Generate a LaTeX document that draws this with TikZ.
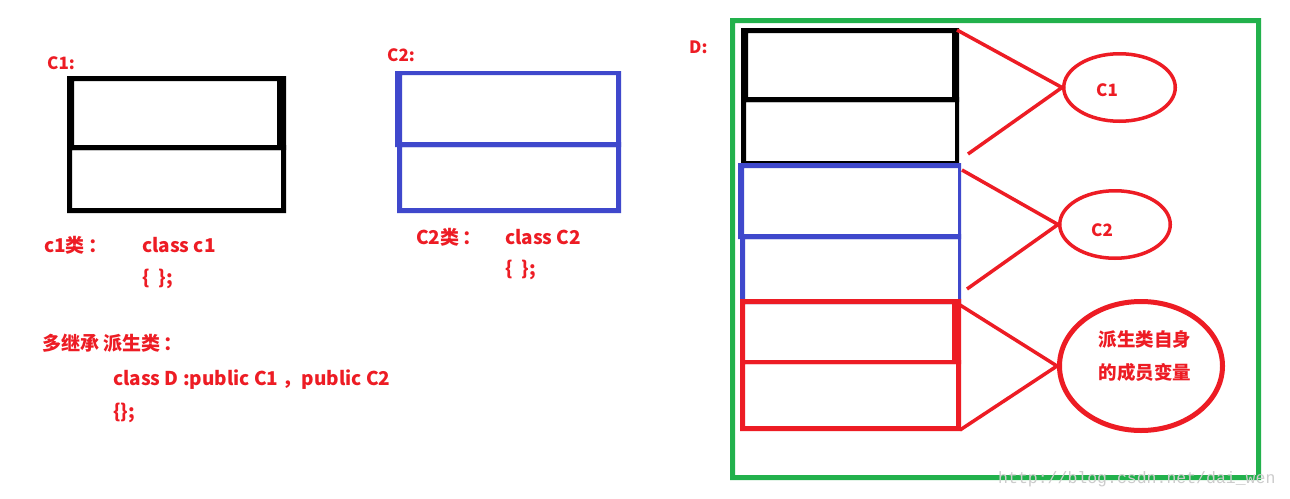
\documentclass[tikz,border=0pt]{standalone}
\usepackage{fontspec}
\setmainfont{Noto Sans CJK SC}
\newfontfamily\wmfont{Liberation Mono}
\usetikzlibrary{shapes.geometric}
\definecolor{pred}{HTML}{ED1C24}
\definecolor{pblue}{HTML}{3F48CC}
\definecolor{pgreen}{HTML}{22B14C}
\tikzset{
  lbl/.style={text=pred, font=\bfseries\fontsize{17}{20}\selectfont, anchor=base west, inner sep=0pt},
  txt/.style={text=pred, font=\bfseries\fontsize{19}{22}\selectfont, anchor=base west, inner sep=0pt},
  frameblack/.style={fill=black, even odd rule},
  frameblue/.style={fill=pblue, even odd rule},
  framered/.style={fill=pred, even odd rule},
  framegreen/.style={fill=pgreen, even odd rule},
  oval/.style={draw=pred, ellipse, inner sep=0pt},
  link/.style={draw=pred, line width=3.5pt},
  ovaltxt/.style={text=pred, font=\bfseries\fontsize{17}{20}\selectfont, inner sep=0pt},
}
\begin{document}
\begin{tikzpicture}[x=1pt,y=-1pt]
\useasboundingbox (0,0) rectangle (1290,498);
\fill[white] (0,0) rectangle (1290,498);

% ---- C1 ----
\node[lbl] (lc1) at (47,69) {C1:};
\fill[frameblack] (67,76) rectangle (286,150) (74,81) rectangle (277,145);
\fill[frameblack] (67,145) rectangle (286,213) (72,150) rectangle (281,208);
\node[txt] (c1cn) at (44,252) {c1类\,：};
\node[txt] (c1cls) at (142,252) {class c1};
\node[txt] (c1br) at (142,284) {\{\ \ \};};

% ---- C2 ----
\node[lbl] (lc2) at (387,61) {C2:};
\fill[frameblue] (395,71) rectangle (621,147) (402,75) rectangle (616,142);
\fill[frameblue] (397,142) rectangle (621,213) (402,147) rectangle (616,208);
\node[txt] (c2cn) at (416,244) {C2类\,：};
\node[txt] (c2cls) at (505,244) {class C2};
\node[txt] (c2br) at (505,275) {\{\ \ \};};

% ---- multiple inheritance text ----
\node[txt] (mi) at (42,350) {多继承 派生类\,：};
\node[txt] (dcls) at (113,385) {class D :public C1 ，public C2};
\node[txt] (dbr) at (113,418) {\{\};};

% ---- D ----
\node[lbl] (ld) at (689,53) {D:};
\fill[framegreen] (730,18) rectangle (1261,480) (735,23) rectangle (1256,475);
\fill[frameblack] (741,28) rectangle (959,102) (748,33) rectangle (952,97);
\fill[frameblack] (741,97) rectangle (959,163) (746,102) rectangle (955,161);
\fill[frameblue] (738,163) rectangle (961,239) (744,168) rectangle (958,234);
\fill[frameblue] (740,234) rectangle (961,304) (745,239) rectangle (958,299);
\fill[framered] (740,299) rectangle (961,364) (745,304) rectangle (952,360);
\fill[framered] (740,360) rectangle (961,431) (745,364) rectangle (956,426);

% ---- ovals ----
\node[oval, line width=3.5pt, minimum width=111.5pt, minimum height=67.5pt] (e1) at (1119.5,87.5) {};
\node[oval, line width=3.5pt, minimum width=110.5pt, minimum height=67.5pt] (e2) at (1115,224.5) {};
\node[oval, line width=5pt, minimum width=163pt, minimum height=129pt] (e3) at (1141,366) {};
\node[ovaltxt] (t1) at (1107,90) {C1};
\node[ovaltxt] (t2) at (1102,230) {C2};
\node[ovaltxt, font=\bfseries\fontsize{18.5}{21}\selectfont] (t3a) at (1145,339) {派生类自身};
\node[ovaltxt, font=\bfseries\fontsize{18.5}{21}\selectfont] (t3b) at (1145,372) {的成员变量};

% ---- connectors ----
\coordinate (a1) at (957,30);
\coordinate (a2) at (968,154);
\coordinate (b1) at (962,170);
\coordinate (b2) at (967,289);
\coordinate (d1) at (960,305);
\coordinate (d2) at (960,430);
\draw[link] (a1) -- (e1.west) -- (a2);
\draw[link] (b1) -- (e2.west) -- (b2);
\draw[link] (d1) -- (e3.west) -- (d2);

% ---- watermark ----
\node[anchor=base west, inner sep=0pt, text=black!20, font=\wmfont\fontsize{16.5}{18}\selectfont] (wm) at (998,483) {http://blog.csdn.net/dai\_wen};
\end{tikzpicture}
\end{document}
